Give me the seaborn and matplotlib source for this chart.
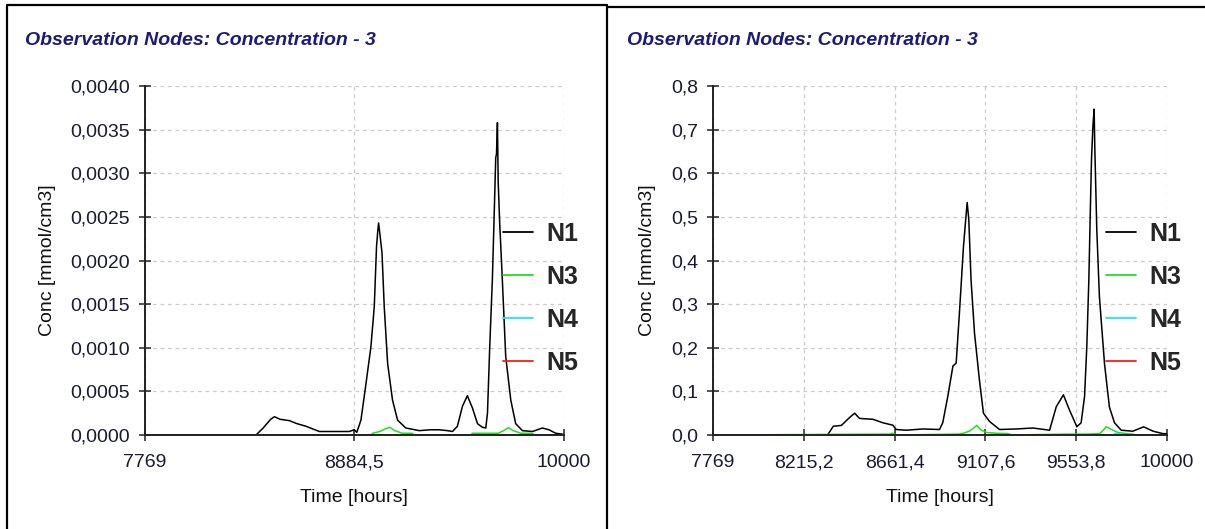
import numpy as np
import pandas as pd
import matplotlib
matplotlib.use("Agg")
import matplotlib.pyplot as plt
from matplotlib.lines import Line2D
from matplotlib.ticker import FixedLocator, FuncFormatter
import seaborn as sns

# ---------------- data ----------------
title_text = "Observation Nodes: Concentration - 3"
series_names = ["N1", "N3", "N4", "N5"]
series_colors = ["#000000", "#22dd22", "#22e5f0", "#ff1a1a"]

# left panel
left_xticks = [7769, 8884.5, 10000]
left_yticks = [0.0, 0.0005, 0.0010, 0.0015, 0.0020, 0.0025, 0.0030, 0.0035, 0.0040]

left_n1_t = [7769, 8362, 8400, 8440, 8460, 8490, 8539, 8580, 8628, 8699, 8780, 8858, 8885, 8898,
             8920, 8947, 8973, 8991, 9003, 9010, 9014, 9020, 9032, 9044, 9062, 9088, 9115, 9159,
             9230, 9290, 9336, 9380, 9407, 9433, 9460, 9486, 9513, 9540, 9565, 9584, 9593, 9605,
             9619, 9628, 9637, 9641, 9646, 9650, 9658, 9672, 9690, 9717, 9743, 9779, 9832, 9885,
             9920, 9956, 9991, 10000]
left_n1_c = [0, 0, 0.00008, 0.00018, 0.00021, 0.00018, 0.000165, 0.00013, 0.0001, 0.00004, 0.00004,
             0.00004, 0.00006, 0.00003, 0.00017, 0.00059, 0.00101, 0.00147, 0.00216, 0.00235,
             0.00243, 0.00232, 0.00209, 0.00147, 0.00082, 0.0004, 0.00017, 0.00008, 0.00005,
             0.00006, 0.00006, 0.00005, 0.00004, 0.0001, 0.00033, 0.00045, 0.00031, 0.00013,
             0.00009, 0.00008, 0.00025, 0.00101, 0.00178, 0.00247, 0.00318, 0.00322, 0.00358,
             0.0029, 0.00243, 0.00178, 0.0009, 0.0004, 0.00013, 0.00005, 0.00004, 0.00008,
             0.00006, 0.00002, 0.00001, 0.0]

left_n3_t = [7769, 8975, 8982, 9020, 9050, 9074, 9100, 9140, 9194, 9200,
             9505, 9513, 9600, 9650, 9680, 9704, 9730, 9770, 9832, 9840, 10000]
left_n3_c = [0, 0, 0.00002, 0.00004, 0.00007, 0.000088, 0.00005, 0.00002, 0.00002, 0,
             0, 0.00002, 0.00002, 0.00002, 0.00005, 0.000084, 0.00005, 0.00002, 0.00002, 0, 0]

left_n4_t = [7769, 10000]
left_n4_c = [0, 0]
left_n5_t = [7769, 10000]
left_n5_c = [0, 0]

# right panel
right_xticks = [7769, 8215.2, 8661.4, 9107.6, 9553.8, 10000]
right_yticks = [0.0, 0.1, 0.2, 0.3, 0.4, 0.5, 0.6, 0.7, 0.8]

right_n1_t = [7769, 8332, 8360, 8400, 8440, 8465, 8489, 8555, 8604, 8653, 8669, 8718, 8800, 8882,
              8898, 8923, 8948, 8964, 8980, 9000, 9013, 9018, 9026, 9037, 9054, 9078, 9098, 9128,
              9177, 9259, 9341, 9423, 9456, 9491, 9521, 9557, 9578, 9595, 9606, 9616, 9623, 9629,
              9636, 9642, 9645, 9655, 9668, 9693, 9717, 9742, 9775, 9832, 9885, 9932, 9981, 10000]
right_n1_c = [0, 0, 0.02, 0.022, 0.04, 0.05, 0.038, 0.036, 0.028, 0.0225, 0.0126, 0.011, 0.0138,
              0.0126, 0.028, 0.089, 0.158, 0.165, 0.28, 0.433, 0.506, 0.533, 0.494, 0.356, 0.234,
              0.127, 0.05, 0.031, 0.0126, 0.0138, 0.016, 0.011, 0.065, 0.092, 0.057, 0.019, 0.028,
              0.089, 0.204, 0.357, 0.51, 0.632, 0.709, 0.747, 0.663, 0.47, 0.316, 0.163, 0.064,
              0.028, 0.011, 0.0087, 0.0187, 0.0087, 0.003, 0.003]

right_n3_t = [7769, 8640, 8653, 8670, 8977, 9000, 9029, 9050, 9065, 9085, 9111, 9160, 9218, 9240,
              9511, 9600, 9668, 9685, 9701, 9730, 9758, 9800, 9831, 9850, 10000]
right_n3_c = [0, 0.002, 0.004, 0, 0.002, 0.004, 0.009, 0.016, 0.022, 0.012, 0.006, 0.004, 0.003, 0,
              0.002, 0.002, 0.003, 0.01, 0.019, 0.012, 0.006, 0.003, 0.002, 0, 0]

right_n4_t = [7769, 9735, 9745, 9775, 9785, 10000]
right_n4_c = [0, 0, 0.003, 0.003, 0, 0]
right_n5_t = [7769, 10000]
right_n5_c = [0, 0]

# ---------------- style ----------------
sns.set_theme(style="white")
plt.rcParams["font.family"] = ["Liberation Sans", "DejaVu Sans"]

W, H = 1205, 529
fig = plt.figure(figsize=(W / 100, H / 100), dpi=100)
fig.patch.set_facecolor("white")

def fx(px):
    return px / W

def fy(py):
    return 1 - py / H

panels = [
    dict(box=(144.5, 86, 564, 435), xticks=left_xticks, yticks=left_yticks,
         ylim=(0, 0.004), yfmt=lambda v, p: f"{v:.4f}".replace(".", ","),
         series=[(left_n1_t, left_n1_c), (left_n3_t, left_n3_c), (left_n4_t, left_n4_c), (left_n5_t, left_n5_c)],
         ylabel_x=-0.211, title_x=25, legend_xy=(503, 222)),
    dict(box=(713, 86, 1167, 435), xticks=right_xticks, yticks=right_yticks,
         ylim=(0, 0.8), yfmt=lambda v, p: f"{v:.1f}".replace(".", ","),
         series=[(right_n1_t, right_n1_c), (right_n3_t, right_n3_c), (right_n4_t, right_n4_c), (right_n5_t, right_n5_c)],
         ylabel_x=-0.125, title_x=627, legend_xy=(1106, 222)),
]

def xfmt(v, p):
    if abs(v - round(v)) < 1e-6:
        return f"{int(round(v))}"
    return f"{v:.1f}".replace(".", ",")

tick_color = "#1a1a33"
for P in panels:
    x0, y0, x1, y1 = P["box"]
    ax = fig.add_axes([fx(x0), fy(y1), fx(x1) - fx(x0), fy(y0) - fy(y1)])
    ax.set_facecolor("white")
    for (t, c), name, col in zip(P["series"], series_names, series_colors):
        df = pd.DataFrame({"Time": t, "Conc": c})
        sns.lineplot(data=df, x="Time", y="Conc", ax=ax, color=col, linewidth=1.1,
                     label=name, sort=False, estimator=None)
    ax.set_xlim(7769, 10000)
    ax.set_ylim(*P["ylim"])
    ax.xaxis.set_major_locator(FixedLocator(P["xticks"]))
    ax.yaxis.set_major_locator(FixedLocator(P["yticks"]))
    ax.xaxis.set_major_formatter(FuncFormatter(xfmt))
    ax.yaxis.set_major_formatter(FuncFormatter(P["yfmt"]))
    ax.tick_params(axis="both", direction="inout", length=9, width=1.1, color="#222222",
                   labelsize=14, labelcolor=tick_color)
    ax.tick_params(axis="y", pad=6)
    ax.tick_params(axis="x", pad=9.5)
    ax.tick_params(axis="both", which="both", bottom=True, left=True, top=False, right=False)
    for s in ["top", "right"]:
        ax.spines[s].set_visible(False)
    for s in ["left", "bottom"]:
        ax.spines[s].set_color("#222222")
        ax.spines[s].set_linewidth(1.4)
    ax.grid(True, color="#cccccc", linestyle=(0, (3, 3)), linewidth=0.9)
    ax.set_xlabel("Time [hours]", fontsize=14, color="#111111")
    ax.set_ylabel("Conc [mmol/cm3]", fontsize=14, color="#111111")
    ax.xaxis.set_label_coords(0.5, -0.154)
    ax.yaxis.set_label_coords(P["ylabel_x"], 0.5)
    lx, ly = P["legend_xy"]
    leg = ax.legend(loc="upper left", bbox_to_anchor=(fx(lx), fy(ly)), bbox_transform=fig.transFigure,
                    frameon=False, prop={"weight": "bold", "size": 18}, handlelength=1.2,
                    handletextpad=0.55, labelspacing=0.76, borderpad=0, borderaxespad=0)
    for h in leg.legend_handles:
        h.set_linewidth(1.3)
    fig.text(fx(P["title_x"]), fy(40), title_text, fontsize=14, fontweight="bold", fontstyle="italic",
             color="#1b1b7a", va="center", ha="left")

# panel frames
frame_kw = dict(color="black", linewidth=1.6, transform=fig.transFigure)
fig.add_artist(Line2D([fx(7), fx(7), fx(607), fx(607)], [fy(529), fy(5), fy(5), fy(529)], **frame_kw))
fig.add_artist(Line2D([fx(608), fx(1205)], [fy(6.5), fy(6.5)], **frame_kw))

fig.savefig("out.png", dpi=100, facecolor="white")
